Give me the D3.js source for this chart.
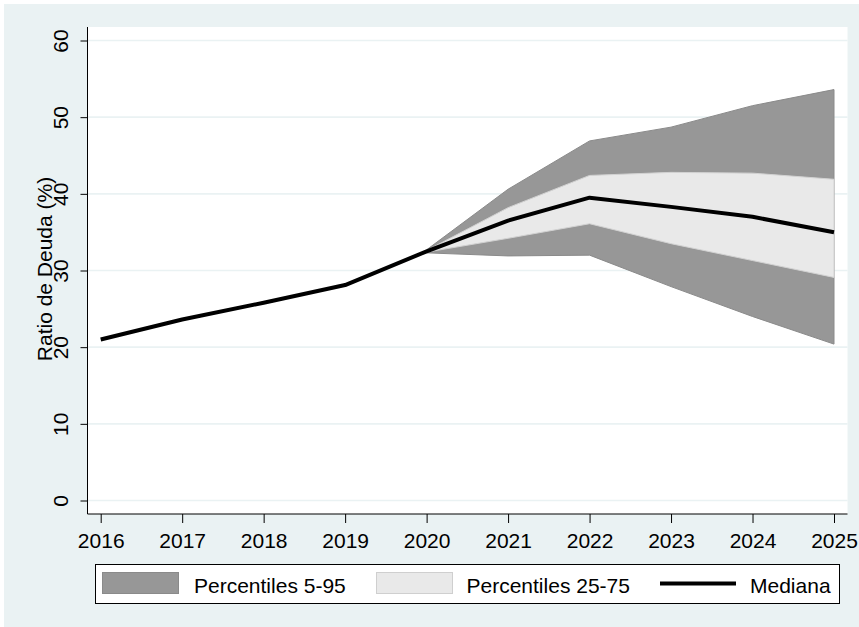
<!DOCTYPE html>
<html>
<head>
<meta charset="utf-8">
<script src="https://cdn.jsdelivr.net/npm/d3@7"></script>
<style>
  html, body { margin: 0; padding: 0; background: #ffffff; }
  svg { display: block; font-family: "Liberation Sans", Arial, sans-serif; }
</style>
</head>
<body>
<svg id="chart" width="859" height="627"></svg>
<script>
// Debt ratio projection: historical median plus fan of percentiles
const years = [2016, 2017, 2018, 2019, 2020, 2021, 2022, 2023, 2024, 2025];
const median = [21.0, 23.6, 25.8, 28.1, 32.5, 36.5, 39.5, 38.3, 37.0, 35.0];

const fanYears = [2020, 2021, 2022, 2023, 2024, 2025];
const p5  = [32.3, 31.9, 32.0, 27.9, 24.0, 20.4];
const p25 = [32.4, 34.2, 36.1, 33.5, 31.3, 29.1];
const p75 = [32.6, 38.2, 42.4, 42.8, 42.7, 41.9];
const p95 = [32.7, 40.6, 46.9, 48.7, 51.5, 53.6];

const yTicks = [0, 10, 20, 30, 40, 50, 60];
const yTitle = "Ratio de Deuda (%)";
const legendLabels = ["Percentiles 5-95", "Percentiles 25-75", "Mediana"];

const svg = d3.select("#chart");
const FONT = 21;

// graph region
svg.append("rect").attr("x", 4).attr("y", 4).attr("width", 855).attr("height", 623)
  .attr("fill", "#eaf2f3");

// plot region
const plot = { left: 87.5, right: 847.5, top: 27, bottom: 514 };
svg.append("rect")
  .attr("x", plot.left).attr("y", plot.top)
  .attr("width", plot.right - plot.left).attr("height", plot.bottom - plot.top)
  .attr("fill", "#ffffff");

const x = d3.scaleLinear().domain([2016, 2025]).range([100.7, 834]);
const y = d3.scaleLinear().domain([0, 60]).range([500.5, 40.5]);

// horizontal grid
svg.append("g").selectAll("line").data(yTicks).join("line")
  .attr("x1", plot.left).attr("x2", plot.right)
  .attr("y1", d => y(d)).attr("y2", d => y(d))
  .attr("stroke", "#eaf2f3").attr("stroke-width", 1.6);

// 5-95 band
const fan = fanYears.map((yr, i) => ({ yr, p5: p5[i], p25: p25[i], p75: p75[i], p95: p95[i] }));
const outer = d3.area().x(d => x(d.yr)).y0(d => y(d.p5)).y1(d => y(d.p95));
svg.append("path").datum(fan).attr("d", outer)
  .attr("fill", "#979797").attr("stroke", "#8a8a8a").attr("stroke-width", 1);

// 25-75 band
const inner = d3.area().x(d => x(d.yr)).y0(d => y(d.p25)).y1(d => y(d.p75));
svg.append("path").datum(fan).attr("d", inner)
  .attr("fill", "#e9e9e9").attr("stroke", "#d2d2d2").attr("stroke-width", 1);

// median line
const line = d3.line().x((d, i) => x(years[i])).y(d => y(d));
svg.append("path").datum(median).attr("d", line)
  .attr("fill", "none").attr("stroke", "#000000").attr("stroke-width", 4)
  .attr("stroke-linejoin", "round");

// y axis
const yAxis = svg.append("g").attr("transform", `translate(${plot.left},0)`)
  .call(d3.axisLeft(y).tickValues(yTicks).tickSize(7).tickSizeOuter(0));
yAxis.select(".domain").attr("d", `M0,${plot.top}V${plot.bottom}`).attr("stroke", "#000");
yAxis.selectAll(".tick line").attr("stroke", "#000");
yAxis.selectAll(".tick text")
  .attr("transform", "rotate(-90)")
  .attr("x", 0).attr("y", -19.5).attr("dy", 0)
  .attr("text-anchor", "middle")
  .style("font-family", "'Liberation Sans', Arial, sans-serif")
  .style("font-size", FONT + "px").attr("fill", "#000");

// x axis
const xAxis = svg.append("g").attr("transform", `translate(0,${plot.bottom})`)
  .call(d3.axisBottom(x).tickValues(years).tickFormat(d3.format("d")).tickSize(9).tickSizeOuter(0));
xAxis.select(".domain").attr("d", `M${plot.left},0H${plot.right}`).attr("stroke", "#000");
xAxis.selectAll(".tick line").attr("stroke", "#000");
xAxis.selectAll(".tick text")
  .attr("y", 33.7).attr("dy", 0)
  .style("font-family", "'Liberation Sans', Arial, sans-serif")
  .style("font-size", FONT + "px").attr("fill", "#000");

// y title
svg.append("text")
  .attr("transform", `translate(51.5,269) rotate(-90)`)
  .attr("text-anchor", "middle")
  .style("font-size", FONT + "px").attr("fill", "#000")
  .text(yTitle);

// legend
const lg = svg.append("g");
lg.append("rect").attr("x", 95.5).attr("y", 564.5).attr("width", 744).attr("height", 39)
  .attr("fill", "#ffffff").attr("stroke", "#000").attr("stroke-width", 1);
lg.append("rect").attr("x", 102.5).attr("y", 572.5).attr("width", 76).attr("height", 21)
  .attr("fill", "#979797").attr("stroke", "#8a8a8a").attr("stroke-width", 1);
lg.append("rect").attr("x", 376.5).attr("y", 572.5).attr("width", 76).attr("height", 21)
  .attr("fill", "#e9e9e9").attr("stroke", "#cfcfcf").attr("stroke-width", 1);
lg.append("line").attr("x1", 660).attr("x2", 736).attr("y1", 583.5).attr("y2", 583.5)
  .attr("stroke", "#000").attr("stroke-width", 4);
const lx = [194, 466.5, 750];
lg.selectAll("text.lab").data(legendLabels).join("text").attr("class", "lab")
  .attr("x", (d, i) => lx[i]).attr("y", 593)
  .style("font-size", FONT + "px").attr("fill", "#000")
  .text(d => d);
</script>
</body>
</html>
